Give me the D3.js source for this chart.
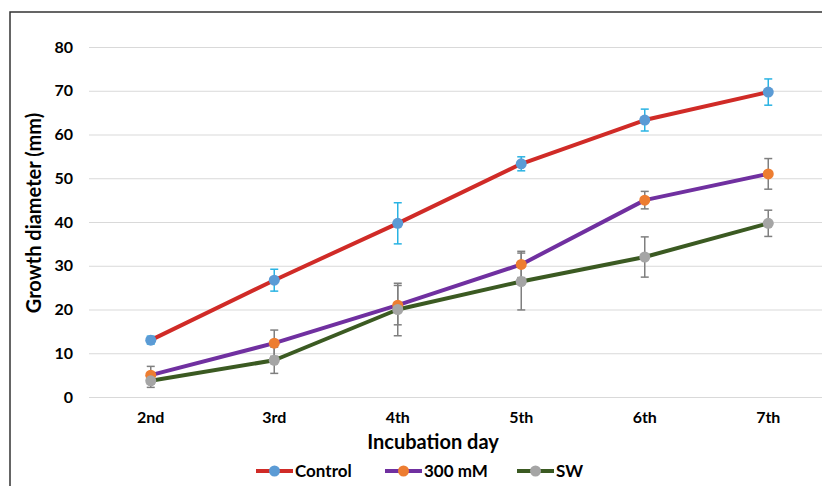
<!DOCTYPE html>
<html>
<head>
<meta charset="utf-8">
<script src="https://cdn.jsdelivr.net/npm/d3@7"></script>
<style>
  body { margin: 0; background: #fff; }
  text { font-family: Lato, "Open Sans", sans-serif; font-weight: bold; fill: #000; }
</style>
</head>
<body>
<div id="chart"></div>
<script>
// data
var days = ["2nd", "3rd", "4th", "5th", "6th", "7th"];
var yTicks = [0, 10, 20, 30, 40, 50, 60, 70, 80];

var controlVals = [13.0, 26.7, 39.7, 53.3, 63.3, 69.7];
var controlErr = [0.9, 2.5, 4.7, 1.6, 2.5, 3.0];

var mMVals = [5.0, 12.3, 21.0, 30.3, 45.0, 51.0];
var mMErr = [2.0, 3.0, 4.5, 3.0, 2.0, 3.5];

var swVals = [3.7, 8.4, 20.0, 26.4, 32.0, 39.7];
var swErr = [1.5, 3.0, 6.0, 6.5, 4.6, 3.0];

var seriesNames = ["Control", "300 mM", "SW"];

var series = [
  { name: seriesNames[0], vals: controlVals, err: controlErr, line: "#d02b27", dot: "#5b9bd5", bar: "#29b3e3" },
  { name: seriesNames[1], vals: mMVals, err: mMErr, line: "#7030a0", dot: "#ed7d31", bar: "#7f7f7f" },
  { name: seriesNames[2], vals: swVals, err: swErr, line: "#3b5a22", dot: "#a5a5a5", bar: "#7f7f7f" }
];

// size
var width = 822;
var height = 486;
var plotLeft = 89;
var plotTop = 47;
var plotBottom = 397;
var step = 123.5;

var svg = d3
  .select("#chart")
  .append("svg")
  .attr("width", width)
  .attr("height", height);

// frame round the chart (runs off the right and bottom)
svg.append("rect")
  .attr("x", 10)
  .attr("y", 12)
  .attr("width", width + 20)
  .attr("height", height + 20)
  .attr("fill", "none")
  .attr("stroke", "#333")
  .attr("stroke-width", 1.5);

var xScale = d3
  .scaleBand()
  .domain(days)
  .range([plotLeft, plotLeft + step * days.length]);

var yScale = d3
  .scaleLinear()
  .domain([0, 80])
  .range([plotBottom, plotTop]);

// grid lines
var yAxis = d3.axisLeft(yScale)
  .tickValues(yTicks)
  .tickSize(-(width - plotLeft + 20))
  .tickPadding(16);

var yG = svg.append("g")
  .attr("transform", "translate(" + plotLeft + ",0)")
  .call(yAxis);
yG.select(".domain").remove();
yG.selectAll("line").attr("stroke", "#d9d9d9").attr("stroke-width", 1.2);
yG.selectAll("text").attr("font-size", 16).attr("font-family", "Lato, sans-serif").attr("font-weight", "bold");

var xAxis = d3.axisBottom(xScale).tickSize(0).tickPadding(15);
var xG = svg.append("g")
  .attr("transform", "translate(0," + plotBottom + ")")
  .call(xAxis);
xG.select(".domain").remove();
xG.selectAll("text").attr("font-size", 16).attr("font-family", "Lato, sans-serif").attr("font-weight", "bold");

// axis titles
svg.append("text")
  .attr("transform", "translate(41,213)rotate(-90)")
  .attr("text-anchor", "middle")
  .attr("font-size", 20)
  .text("Growth diameter (mm)");

svg.append("text")
  .attr("x", 433)
  .attr("y", 449)
  .attr("text-anchor", "middle")
  .attr("font-size", 20)
  .text("Incubation day");

function cx(i) {
  return xScale(days[i]) + xScale.bandwidth() / 2;
}

var line = d3.line()
  .x(function(d, i) { return cx(i); })
  .y(function(d) { return yScale(d); });

// error bars first, then lines, then dots
series.forEach(function(s) {
  var g = svg.append("g");
  s.vals.forEach(function(v, i) {
    var top = yScale(v + s.err[i]);
    var bot = yScale(v - s.err[i]);
    g.append("line").attr("x1", cx(i)).attr("x2", cx(i)).attr("y1", top).attr("y2", bot)
      .attr("stroke", s.bar).attr("stroke-width", 1.5);
    g.append("line").attr("x1", cx(i) - 4).attr("x2", cx(i) + 4).attr("y1", top).attr("y2", top)
      .attr("stroke", s.bar).attr("stroke-width", 1.5);
    g.append("line").attr("x1", cx(i) - 4).attr("x2", cx(i) + 4).attr("y1", bot).attr("y2", bot)
      .attr("stroke", s.bar).attr("stroke-width", 1.5);
  });
});

series.forEach(function(s) {
  svg.append("path")
    .datum(s.vals)
    .attr("d", line)
    .attr("fill", "none")
    .attr("stroke", s.line)
    .attr("stroke-width", 4)
    .attr("stroke-linejoin", "round");
});

series.forEach(function(s) {
  svg.selectAll(null)
    .data(s.vals)
    .enter()
    .append("circle")
    .attr("cx", function(d, i) { return cx(i); })
    .attr("cy", function(d) { return yScale(d); })
    .attr("r", 5.5)
    .attr("fill", s.dot);
});

// legend
var legendX = [256, 385, 517];
var legend = svg.selectAll("g.leg")
  .data(series)
  .enter()
  .append("g")
  .attr("class", "leg")
  .attr("transform", function(d, i) { return "translate(" + legendX[i] + ",471)"; });

legend.append("line")
  .attr("x1", 0).attr("x2", 37).attr("y1", 0).attr("y2", 0)
  .attr("stroke", function(d) { return d.line; })
  .attr("stroke-width", 4);

legend.append("circle")
  .attr("cx", 18.5).attr("cy", 0).attr("r", 5.5)
  .attr("fill", function(d) { return d.dot; });

legend.append("text")
  .attr("x", 39)
  .attr("y", 6)
  .attr("font-size", 17)
  .text(function(d) { return d.name; });
</script>
</body>
</html>
